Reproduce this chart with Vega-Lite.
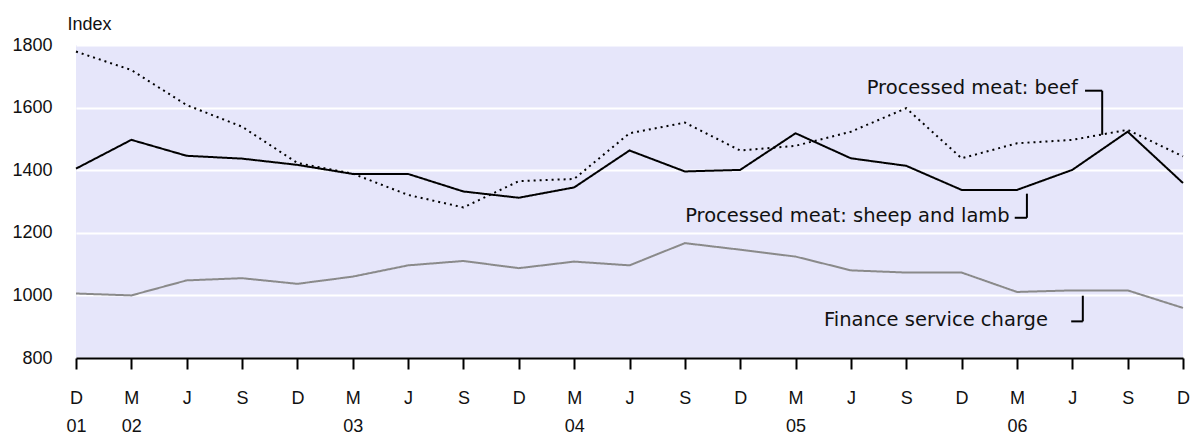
{
  "$schema": "https://vega.github.io/schema/vega-lite/v6.json",
  "width": 1107,
  "height": 313,
  "autosize": {"type": "none"},
  "padding": {"left": 76, "top": 45, "right": 7, "bottom": 76},
  "background": "white",
  "config": {
    "view": {"stroke": null, "fill": "#e6e6fa"},
    "font": "Liberation Sans",
    "axis": {"labelFont": "Liberation Sans", "titleFont": "Liberation Sans", "labelColor": "#111", "titleColor": "#111"}
  },
  "datasets": {
    "series": [
      {"t": 0, "series": "sheep", "value": 1405}, {"t": 1, "series": "sheep", "value": 1497}, {"t": 2, "series": "sheep", "value": 1446}, {"t": 3, "series": "sheep", "value": 1437}, {"t": 4, "series": "sheep", "value": 1417}, {"t": 5, "series": "sheep", "value": 1388}, {"t": 6, "series": "sheep", "value": 1388}, {"t": 7, "series": "sheep", "value": 1332}, {"t": 8, "series": "sheep", "value": 1312}, {"t": 9, "series": "sheep", "value": 1345}, {"t": 10, "series": "sheep", "value": 1463}, {"t": 11, "series": "sheep", "value": 1396}, {"t": 12, "series": "sheep", "value": 1401}, {"t": 13, "series": "sheep", "value": 1518}, {"t": 14, "series": "sheep", "value": 1438}, {"t": 15, "series": "sheep", "value": 1414}, {"t": 16, "series": "sheep", "value": 1337}, {"t": 17, "series": "sheep", "value": 1337}, {"t": 18, "series": "sheep", "value": 1401}, {"t": 19, "series": "sheep", "value": 1523}, {"t": 20, "series": "sheep", "value": 1359},
      {"t": 0, "series": "beef", "value": 1779}, {"t": 1, "series": "beef", "value": 1720}, {"t": 2, "series": "beef", "value": 1608}, {"t": 3, "series": "beef", "value": 1539}, {"t": 4, "series": "beef", "value": 1423}, {"t": 5, "series": "beef", "value": 1389}, {"t": 6, "series": "beef", "value": 1321}, {"t": 7, "series": "beef", "value": 1281}, {"t": 8, "series": "beef", "value": 1365}, {"t": 9, "series": "beef", "value": 1372}, {"t": 10, "series": "beef", "value": 1518}, {"t": 11, "series": "beef", "value": 1552}, {"t": 12, "series": "beef", "value": 1463}, {"t": 13, "series": "beef", "value": 1478}, {"t": 14, "series": "beef", "value": 1523}, {"t": 15, "series": "beef", "value": 1598}, {"t": 16, "series": "beef", "value": 1438}, {"t": 17, "series": "beef", "value": 1486}, {"t": 18, "series": "beef", "value": 1497}, {"t": 19, "series": "beef", "value": 1529}, {"t": 20, "series": "beef", "value": 1444},
      {"t": 0, "series": "finance", "value": 1006}, {"t": 1, "series": "finance", "value": 1000}, {"t": 2, "series": "finance", "value": 1048}, {"t": 3, "series": "finance", "value": 1055}, {"t": 4, "series": "finance", "value": 1037}, {"t": 5, "series": "finance", "value": 1060}, {"t": 6, "series": "finance", "value": 1096}, {"t": 7, "series": "finance", "value": 1110}, {"t": 8, "series": "finance", "value": 1087}, {"t": 9, "series": "finance", "value": 1108}, {"t": 10, "series": "finance", "value": 1096}, {"t": 11, "series": "finance", "value": 1167}, {"t": 12, "series": "finance", "value": 1146}, {"t": 13, "series": "finance", "value": 1124}, {"t": 14, "series": "finance", "value": 1080}, {"t": 15, "series": "finance", "value": 1073}, {"t": 16, "series": "finance", "value": 1073}, {"t": 17, "series": "finance", "value": 1011}, {"t": 18, "series": "finance", "value": 1016}, {"t": 19, "series": "finance", "value": 1016}, {"t": 20, "series": "finance", "value": 960}
    ],
    "labels": [
      {"t": 18.1, "value": 1663, "text": "Processed meat: beef"},
      {"t": 16.87, "value": 1254, "text": "Processed meat: sheep and lamb"},
      {"t": 17.56, "value": 922, "text": "Finance service charge"}
    ],
    "leaders": [
      {"t1": 18.23, "t2": 18.54, "v1": 1654, "v2": 1654},
      {"t1": 18.54, "t2": 18.54, "v1": 1654, "v2": 1513},
      {"t1": 16.96, "t2": 17.18, "v1": 1248, "v2": 1248},
      {"t1": 17.18, "t2": 17.18, "v1": 1248, "v2": 1325},
      {"t1": 17.98, "t2": 18.19, "v1": 917, "v2": 917},
      {"t1": 18.19, "t2": 18.19, "v1": 917, "v2": 999}
    ]
  },
  "layer": [
    {
      "data": {"name": "series"},
      "mark": {"type": "line", "strokeWidth": 2},
      "encoding": {
        "x": {
          "field": "t", "type": "quantitative",
          "scale": {"domain": [0, 20], "nice": false, "zero": false},
          "axis": {
            "values": [0,1,2,3,4,5,6,7,8,9,10,11,12,13,14,15,16,17,18,19,20],
            "labelExpr": "[['D','M','J','S'][datum.value % 4], datum.value == 0 ? '01' : (datum.value % 4 == 1 ? '0' + (2 + (datum.value - 1) / 4) : '')]",
            "title": null, "grid": false,
            "domainColor": "#000", "domainWidth": 2,
            "tickColor": "#000", "tickWidth": 2, "tickSize": 11,
            "labelFontSize": 18, "labelPadding": 20, "labelLineHeight": 28,
            "labelBaseline": "top", "labelFlush": false, "labelOverlap": false
          }
        },
        "y": {
          "field": "value", "type": "quantitative",
          "scale": {"domain": [800, 1800], "nice": false, "zero": false},
          "axis": {
            "values": [800, 1000, 1200, 1400, 1600, 1800], "format": "d",
            "title": "Index", "titleAngle": 0, "titleAlign": "left", "titleBaseline": "middle",
            "titleX": -9, "titleY": -21, "titleFontSize": 18, "titleFontWeight": "normal",
            "domain": false, "ticks": false, "labelPadding": 24, "labelFontSize": 18,
            "grid": true, "gridColor": "white", "gridWidth": 2
          }
        },
        "color": {
          "field": "series", "type": "nominal", "legend": null,
          "scale": {"domain": ["sheep", "beef", "finance"], "range": ["#000000", "#000000", "#8a8a8a"]}
        },
        "strokeDash": {
          "field": "series", "type": "nominal", "legend": null,
          "scale": {"domain": ["sheep", "beef", "finance"], "range": [[1, 0], [2, 4], [1, 0]]}
        }
      }
    },
    {
      "data": {"name": "leaders"},
      "mark": {"type": "rule", "color": "#000", "strokeWidth": 2},
      "encoding": {
        "x": {"field": "t1", "type": "quantitative"},
        "x2": {"field": "t2"},
        "y": {"field": "v1", "type": "quantitative"},
        "y2": {"field": "v2"}
      }
    },
    {
      "data": {"name": "labels"},
      "mark": {"type": "text", "align": "right", "baseline": "middle", "fontSize": 19.5, "color": "#111", "font": "DejaVu Sans"},
      "encoding": {
        "x": {"field": "t", "type": "quantitative"},
        "y": {"field": "value", "type": "quantitative"},
        "text": {"field": "text"}
      }
    }
  ]
}
